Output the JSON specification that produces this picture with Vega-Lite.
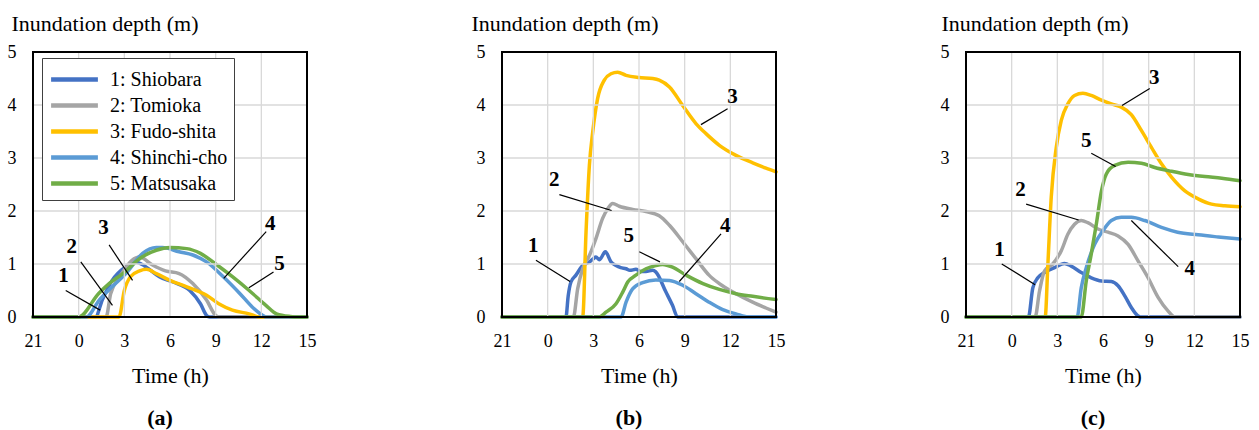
{
  "$schema": "https://vega.github.io/schema/vega-lite/v6.json",
  "padding": {"left": 7, "top": 12, "right": 5, "bottom": 5},
  "background": "white",
  "config": {
    "font": "Liberation Serif",
    "view": {"stroke": null},
    "axis": {"labelFont": "Liberation Serif", "titleFont": "Liberation Serif", "labelColor": "black", "titleColor": "black", "labelFontSize": 18, "titleFontSize": 22, "titleFontWeight": "normal", "grid": false, "ticks": false, "domain": false, "labelFlush": false},
    "title": {"font": "Liberation Serif", "fontSize": 22, "fontWeight": "bold", "color": "black"},
    "legend": {"labelFont": "Liberation Serif", "labelFontSize": 20, "labelColor": "black"}
  },
  "datasets": {
    "gx": [{"v":0},{"v":3},{"v":6},{"v":9},{"v":12}],
    "gy": [{"v":1},{"v":2},{"v":3},{"v":4}],
    "frame": [{"x0":-3,"x1":15,"y0":0,"y1":5}],
    "curves": [
      {"p":"a","s":"1: Shiobara","t":-3,"d":0},{"p":"a","s":"1: Shiobara","t":1.1,"d":0},{"p":"a","s":"1: Shiobara","t":1.55,"d":0.32},{"p":"a","s":"1: Shiobara","t":2.2,"d":0.69},{"p":"a","s":"1: Shiobara","t":3.1,"d":0.95},{"p":"a","s":"1: Shiobara","t":3.75,"d":1.04},{"p":"a","s":"1: Shiobara","t":4.4,"d":0.95},{"p":"a","s":"1: Shiobara","t":5.3,"d":0.76},{"p":"a","s":"1: Shiobara","t":6.2,"d":0.66},{"p":"a","s":"1: Shiobara","t":7.3,"d":0.5},{"p":"a","s":"1: Shiobara","t":8.0,"d":0.25},{"p":"a","s":"1: Shiobara","t":8.4,"d":0.03},{"p":"a","s":"1: Shiobara","t":8.6,"d":0},{"p":"a","s":"1: Shiobara","t":15,"d":0},
      {"p":"a","s":"2: Tomioka","t":-3,"d":0},{"p":"a","s":"2: Tomioka","t":1.8,"d":0},{"p":"a","s":"2: Tomioka","t":2.1,"d":0.44},{"p":"a","s":"2: Tomioka","t":2.7,"d":0.76},{"p":"a","s":"2: Tomioka","t":3.5,"d":1.07},{"p":"a","s":"2: Tomioka","t":4.0,"d":1.13},{"p":"a","s":"2: Tomioka","t":4.85,"d":0.98},{"p":"a","s":"2: Tomioka","t":5.7,"d":0.87},{"p":"a","s":"2: Tomioka","t":6.6,"d":0.82},{"p":"a","s":"2: Tomioka","t":7.5,"d":0.63},{"p":"a","s":"2: Tomioka","t":8.4,"d":0.32},{"p":"a","s":"2: Tomioka","t":9.0,"d":0.03},{"p":"a","s":"2: Tomioka","t":9.2,"d":0},{"p":"a","s":"2: Tomioka","t":15,"d":0},
      {"p":"a","s":"3: Fudo-shita","t":-3,"d":0},{"p":"a","s":"3: Fudo-shita","t":2.65,"d":0},{"p":"a","s":"3: Fudo-shita","t":3.0,"d":0.5},{"p":"a","s":"3: Fudo-shita","t":3.4,"d":0.76},{"p":"a","s":"3: Fudo-shita","t":4.0,"d":0.87},{"p":"a","s":"3: Fudo-shita","t":4.45,"d":0.9},{"p":"a","s":"3: Fudo-shita","t":5.1,"d":0.82},{"p":"a","s":"3: Fudo-shita","t":6.0,"d":0.69},{"p":"a","s":"3: Fudo-shita","t":7.1,"d":0.57},{"p":"a","s":"3: Fudo-shita","t":8.4,"d":0.41},{"p":"a","s":"3: Fudo-shita","t":9.2,"d":0.25},{"p":"a","s":"3: Fudo-shita","t":10.1,"d":0.13},{"p":"a","s":"3: Fudo-shita","t":11.2,"d":0.06},{"p":"a","s":"3: Fudo-shita","t":11.9,"d":0},{"p":"a","s":"3: Fudo-shita","t":15,"d":0},
      {"p":"a","s":"4: Shinchi-cho","t":-3,"d":0},{"p":"a","s":"4: Shinchi-cho","t":0.5,"d":0},{"p":"a","s":"4: Shinchi-cho","t":1.35,"d":0.32},{"p":"a","s":"4: Shinchi-cho","t":2.2,"d":0.57},{"p":"a","s":"4: Shinchi-cho","t":3.1,"d":0.82},{"p":"a","s":"4: Shinchi-cho","t":4.2,"d":1.2},{"p":"a","s":"4: Shinchi-cho","t":5.1,"d":1.31},{"p":"a","s":"4: Shinchi-cho","t":5.5,"d":1.31},{"p":"a","s":"4: Shinchi-cho","t":6.6,"d":1.23},{"p":"a","s":"4: Shinchi-cho","t":7.5,"d":1.17},{"p":"a","s":"4: Shinchi-cho","t":8.4,"d":1.04},{"p":"a","s":"4: Shinchi-cho","t":9.5,"d":0.76},{"p":"a","s":"4: Shinchi-cho","t":10.6,"d":0.44},{"p":"a","s":"4: Shinchi-cho","t":11.4,"d":0.19},{"p":"a","s":"4: Shinchi-cho","t":12.1,"d":0.03},{"p":"a","s":"4: Shinchi-cho","t":12.3,"d":0},{"p":"a","s":"4: Shinchi-cho","t":15,"d":0},
      {"p":"a","s":"5: Matsusaka","t":-3,"d":0},{"p":"a","s":"5: Matsusaka","t":0,"d":0},{"p":"a","s":"5: Matsusaka","t":1.3,"d":0.44},{"p":"a","s":"5: Matsusaka","t":2.0,"d":0.63},{"p":"a","s":"5: Matsusaka","t":2.9,"d":0.82},{"p":"a","s":"5: Matsusaka","t":4.0,"d":1.1},{"p":"a","s":"5: Matsusaka","t":5.1,"d":1.26},{"p":"a","s":"5: Matsusaka","t":6.0,"d":1.31},{"p":"a","s":"5: Matsusaka","t":7.1,"d":1.29},{"p":"a","s":"5: Matsusaka","t":8.0,"d":1.2},{"p":"a","s":"5: Matsusaka","t":9.0,"d":1.0},{"p":"a","s":"5: Matsusaka","t":10.1,"d":0.76},{"p":"a","s":"5: Matsusaka","t":11.2,"d":0.5},{"p":"a","s":"5: Matsusaka","t":12.3,"d":0.22},{"p":"a","s":"5: Matsusaka","t":13.0,"d":0.06},{"p":"a","s":"5: Matsusaka","t":13.9,"d":0.01},{"p":"a","s":"5: Matsusaka","t":14.5,"d":0},{"p":"a","s":"5: Matsusaka","t":15,"d":0},

      {"p":"b","s":"1: Shiobara","t":-3,"d":0},{"p":"b","s":"1: Shiobara","t":1.2,"d":0},{"p":"b","s":"1: Shiobara","t":1.35,"d":0.4},{"p":"b","s":"1: Shiobara","t":1.53,"d":0.66},{"p":"b","s":"1: Shiobara","t":1.86,"d":0.79},{"p":"b","s":"1: Shiobara","t":2.3,"d":0.97},{"p":"b","s":"1: Shiobara","t":2.74,"d":1.04},{"p":"b","s":"1: Shiobara","t":3.0,"d":1.1},{"p":"b","s":"1: Shiobara","t":3.17,"d":1.13},{"p":"b","s":"1: Shiobara","t":3.4,"d":1.08},{"p":"b","s":"1: Shiobara","t":3.5,"d":1.11},{"p":"b","s":"1: Shiobara","t":3.79,"d":1.23},{"p":"b","s":"1: Shiobara","t":4.16,"d":1.04},{"p":"b","s":"1: Shiobara","t":4.49,"d":0.97},{"p":"b","s":"1: Shiobara","t":4.8,"d":0.93},{"p":"b","s":"1: Shiobara","t":5.15,"d":0.91},{"p":"b","s":"1: Shiobara","t":5.4,"d":0.88},{"p":"b","s":"1: Shiobara","t":5.8,"d":0.9},{"p":"b","s":"1: Shiobara","t":6.1,"d":0.86},{"p":"b","s":"1: Shiobara","t":6.46,"d":0.86},{"p":"b","s":"1: Shiobara","t":6.9,"d":0.88},{"p":"b","s":"1: Shiobara","t":7.1,"d":0.85},{"p":"b","s":"1: Shiobara","t":7.77,"d":0.47},{"p":"b","s":"1: Shiobara","t":8.2,"d":0.22},{"p":"b","s":"1: Shiobara","t":8.54,"d":0},{"p":"b","s":"1: Shiobara","t":15,"d":0},
      {"p":"b","s":"2: Tomioka","t":-3,"d":0},{"p":"b","s":"2: Tomioka","t":1.69,"d":0},{"p":"b","s":"2: Tomioka","t":1.97,"d":0.53},{"p":"b","s":"2: Tomioka","t":2.3,"d":0.91},{"p":"b","s":"2: Tomioka","t":2.74,"d":1.16},{"p":"b","s":"2: Tomioka","t":3.17,"d":1.48},{"p":"b","s":"2: Tomioka","t":3.61,"d":1.86},{"p":"b","s":"2: Tomioka","t":3.94,"d":2.04},{"p":"b","s":"2: Tomioka","t":4.27,"d":2.14},{"p":"b","s":"2: Tomioka","t":4.7,"d":2.09},{"p":"b","s":"2: Tomioka","t":5.58,"d":2.03},{"p":"b","s":"2: Tomioka","t":6.46,"d":1.99},{"p":"b","s":"2: Tomioka","t":7.33,"d":1.91},{"p":"b","s":"2: Tomioka","t":8.0,"d":1.73},{"p":"b","s":"2: Tomioka","t":8.87,"d":1.42},{"p":"b","s":"2: Tomioka","t":9.74,"d":1.1},{"p":"b","s":"2: Tomioka","t":10.6,"d":0.79},{"p":"b","s":"2: Tomioka","t":11.28,"d":0.63},{"p":"b","s":"2: Tomioka","t":12.37,"d":0.44},{"p":"b","s":"2: Tomioka","t":13.47,"d":0.28},{"p":"b","s":"2: Tomioka","t":14.34,"d":0.17},{"p":"b","s":"2: Tomioka","t":15,"d":0.09},
      {"p":"b","s":"3: Fudo-shita","t":-3,"d":0},{"p":"b","s":"3: Fudo-shita","t":2.3,"d":0},{"p":"b","s":"3: Fudo-shita","t":2.52,"d":1.6},{"p":"b","s":"3: Fudo-shita","t":2.74,"d":2.86},{"p":"b","s":"3: Fudo-shita","t":2.96,"d":3.49},{"p":"b","s":"3: Fudo-shita","t":3.28,"d":4.12},{"p":"b","s":"3: Fudo-shita","t":3.72,"d":4.47},{"p":"b","s":"3: Fudo-shita","t":4.16,"d":4.59},{"p":"b","s":"3: Fudo-shita","t":4.6,"d":4.62},{"p":"b","s":"3: Fudo-shita","t":5.15,"d":4.56},{"p":"b","s":"3: Fudo-shita","t":6.0,"d":4.52},{"p":"b","s":"3: Fudo-shita","t":6.9,"d":4.5},{"p":"b","s":"3: Fudo-shita","t":7.33,"d":4.47},{"p":"b","s":"3: Fudo-shita","t":8.0,"d":4.34},{"p":"b","s":"3: Fudo-shita","t":8.87,"d":3.99},{"p":"b","s":"3: Fudo-shita","t":9.74,"d":3.65},{"p":"b","s":"3: Fudo-shita","t":10.4,"d":3.46},{"p":"b","s":"3: Fudo-shita","t":11.28,"d":3.24},{"p":"b","s":"3: Fudo-shita","t":12.37,"d":3.05},{"p":"b","s":"3: Fudo-shita","t":13.47,"d":2.91},{"p":"b","s":"3: Fudo-shita","t":14.34,"d":2.81},{"p":"b","s":"3: Fudo-shita","t":15,"d":2.74},
      {"p":"b","s":"4: Shinchi-cho","t":-3,"d":0},{"p":"b","s":"4: Shinchi-cho","t":4.82,"d":0},{"p":"b","s":"4: Shinchi-cho","t":5.15,"d":0.28},{"p":"b","s":"4: Shinchi-cho","t":5.58,"d":0.53},{"p":"b","s":"4: Shinchi-cho","t":6.24,"d":0.65},{"p":"b","s":"4: Shinchi-cho","t":7.1,"d":0.7},{"p":"b","s":"4: Shinchi-cho","t":8.0,"d":0.69},{"p":"b","s":"4: Shinchi-cho","t":8.87,"d":0.6},{"p":"b","s":"4: Shinchi-cho","t":9.74,"d":0.44},{"p":"b","s":"4: Shinchi-cho","t":10.6,"d":0.28},{"p":"b","s":"4: Shinchi-cho","t":11.5,"d":0.14},{"p":"b","s":"4: Shinchi-cho","t":12.37,"d":0.06},{"p":"b","s":"4: Shinchi-cho","t":13.25,"d":0},{"p":"b","s":"4: Shinchi-cho","t":15,"d":0},
      {"p":"b","s":"5: Matsusaka","t":-3,"d":0},{"p":"b","s":"5: Matsusaka","t":3.39,"d":0},{"p":"b","s":"5: Matsusaka","t":3.83,"d":0.09},{"p":"b","s":"5: Matsusaka","t":4.49,"d":0.25},{"p":"b","s":"5: Matsusaka","t":4.93,"d":0.47},{"p":"b","s":"5: Matsusaka","t":5.26,"d":0.66},{"p":"b","s":"5: Matsusaka","t":5.8,"d":0.79},{"p":"b","s":"5: Matsusaka","t":6.46,"d":0.91},{"p":"b","s":"5: Matsusaka","t":7.1,"d":0.97},{"p":"b","s":"5: Matsusaka","t":7.55,"d":0.99},{"p":"b","s":"5: Matsusaka","t":8.2,"d":0.94},{"p":"b","s":"5: Matsusaka","t":9.09,"d":0.79},{"p":"b","s":"5: Matsusaka","t":10.2,"d":0.63},{"p":"b","s":"5: Matsusaka","t":11.28,"d":0.52},{"p":"b","s":"5: Matsusaka","t":12.37,"d":0.44},{"p":"b","s":"5: Matsusaka","t":13.47,"d":0.39},{"p":"b","s":"5: Matsusaka","t":15,"d":0.33},

      {"p":"c","s":"1: Shiobara","t":-3,"d":0},{"p":"c","s":"1: Shiobara","t":1.1,"d":0},{"p":"c","s":"1: Shiobara","t":1.39,"d":0.55},{"p":"c","s":"1: Shiobara","t":1.72,"d":0.74},{"p":"c","s":"1: Shiobara","t":2.16,"d":0.84},{"p":"c","s":"1: Shiobara","t":2.82,"d":0.93},{"p":"c","s":"1: Shiobara","t":3.47,"d":1.01},{"p":"c","s":"1: Shiobara","t":3.91,"d":0.96},{"p":"c","s":"1: Shiobara","t":4.57,"d":0.84},{"p":"c","s":"1: Shiobara","t":5.23,"d":0.74},{"p":"c","s":"1: Shiobara","t":5.9,"d":0.68},{"p":"c","s":"1: Shiobara","t":6.55,"d":0.67},{"p":"c","s":"1: Shiobara","t":6.99,"d":0.59},{"p":"c","s":"1: Shiobara","t":7.43,"d":0.4},{"p":"c","s":"1: Shiobara","t":7.86,"d":0.18},{"p":"c","s":"1: Shiobara","t":8.3,"d":0.02},{"p":"c","s":"1: Shiobara","t":8.45,"d":0},{"p":"c","s":"1: Shiobara","t":15,"d":0},
      {"p":"c","s":"2: Tomioka","t":-3,"d":0},{"p":"c","s":"2: Tomioka","t":1.54,"d":0},{"p":"c","s":"2: Tomioka","t":1.83,"d":0.49},{"p":"c","s":"2: Tomioka","t":2.16,"d":0.87},{"p":"c","s":"2: Tomioka","t":2.7,"d":1.0},{"p":"c","s":"2: Tomioka","t":3.26,"d":1.25},{"p":"c","s":"2: Tomioka","t":3.69,"d":1.56},{"p":"c","s":"2: Tomioka","t":4.13,"d":1.75},{"p":"c","s":"2: Tomioka","t":4.57,"d":1.82},{"p":"c","s":"2: Tomioka","t":5.0,"d":1.78},{"p":"c","s":"2: Tomioka","t":5.67,"d":1.66},{"p":"c","s":"2: Tomioka","t":6.33,"d":1.6},{"p":"c","s":"2: Tomioka","t":6.99,"d":1.53},{"p":"c","s":"2: Tomioka","t":7.65,"d":1.37},{"p":"c","s":"2: Tomioka","t":8.3,"d":1.06},{"p":"c","s":"2: Tomioka","t":8.96,"d":0.74},{"p":"c","s":"2: Tomioka","t":9.62,"d":0.37},{"p":"c","s":"2: Tomioka","t":10.28,"d":0.11},{"p":"c","s":"2: Tomioka","t":10.72,"d":0},{"p":"c","s":"2: Tomioka","t":15,"d":0},
      {"p":"c","s":"3: Fudo-shita","t":-3,"d":0},{"p":"c","s":"3: Fudo-shita","t":2.2,"d":0},{"p":"c","s":"3: Fudo-shita","t":2.38,"d":1.0},{"p":"c","s":"3: Fudo-shita","t":2.6,"d":2.26},{"p":"c","s":"3: Fudo-shita","t":2.93,"d":3.2},{"p":"c","s":"3: Fudo-shita","t":3.26,"d":3.71},{"p":"c","s":"3: Fudo-shita","t":3.69,"d":4.02},{"p":"c","s":"3: Fudo-shita","t":4.13,"d":4.18},{"p":"c","s":"3: Fudo-shita","t":4.68,"d":4.22},{"p":"c","s":"3: Fudo-shita","t":5.23,"d":4.18},{"p":"c","s":"3: Fudo-shita","t":5.9,"d":4.09},{"p":"c","s":"3: Fudo-shita","t":6.55,"d":4.02},{"p":"c","s":"3: Fudo-shita","t":7.2,"d":3.96},{"p":"c","s":"3: Fudo-shita","t":7.86,"d":3.82},{"p":"c","s":"3: Fudo-shita","t":8.52,"d":3.52},{"p":"c","s":"3: Fudo-shita","t":9.18,"d":3.2},{"p":"c","s":"3: Fudo-shita","t":9.84,"d":2.89},{"p":"c","s":"3: Fudo-shita","t":10.5,"d":2.64},{"p":"c","s":"3: Fudo-shita","t":11.38,"d":2.38},{"p":"c","s":"3: Fudo-shita","t":12.25,"d":2.23},{"p":"c","s":"3: Fudo-shita","t":13.13,"d":2.13},{"p":"c","s":"3: Fudo-shita","t":14.0,"d":2.1},{"p":"c","s":"3: Fudo-shita","t":15,"d":2.08},
      {"p":"c","s":"4: Shinchi-cho","t":-3,"d":0},{"p":"c","s":"4: Shinchi-cho","t":4.3,"d":0},{"p":"c","s":"4: Shinchi-cho","t":4.57,"d":0.55},{"p":"c","s":"4: Shinchi-cho","t":4.9,"d":0.93},{"p":"c","s":"4: Shinchi-cho","t":5.45,"d":1.37},{"p":"c","s":"4: Shinchi-cho","t":6.0,"d":1.63},{"p":"c","s":"4: Shinchi-cho","t":6.55,"d":1.82},{"p":"c","s":"4: Shinchi-cho","t":7.2,"d":1.88},{"p":"c","s":"4: Shinchi-cho","t":7.86,"d":1.88},{"p":"c","s":"4: Shinchi-cho","t":8.74,"d":1.82},{"p":"c","s":"4: Shinchi-cho","t":9.84,"d":1.69},{"p":"c","s":"4: Shinchi-cho","t":10.9,"d":1.6},{"p":"c","s":"4: Shinchi-cho","t":12.25,"d":1.55},{"p":"c","s":"4: Shinchi-cho","t":13.57,"d":1.51},{"p":"c","s":"4: Shinchi-cho","t":15,"d":1.47},
      {"p":"c","s":"5: Matsusaka","t":-3,"d":0},{"p":"c","s":"5: Matsusaka","t":4.57,"d":0},{"p":"c","s":"5: Matsusaka","t":4.9,"d":0.68},{"p":"c","s":"5: Matsusaka","t":5.23,"d":1.19},{"p":"c","s":"5: Matsusaka","t":5.56,"d":1.75},{"p":"c","s":"5: Matsusaka","t":5.9,"d":2.38},{"p":"c","s":"5: Matsusaka","t":6.22,"d":2.7},{"p":"c","s":"5: Matsusaka","t":6.77,"d":2.86},{"p":"c","s":"5: Matsusaka","t":7.65,"d":2.92},{"p":"c","s":"5: Matsusaka","t":8.52,"d":2.9},{"p":"c","s":"5: Matsusaka","t":9.4,"d":2.82},{"p":"c","s":"5: Matsusaka","t":10.5,"d":2.75},{"p":"c","s":"5: Matsusaka","t":11.6,"d":2.69},{"p":"c","s":"5: Matsusaka","t":12.7,"d":2.65},{"p":"c","s":"5: Matsusaka","t":13.8,"d":2.62},{"p":"c","s":"5: Matsusaka","t":15,"d":2.57}
    ],
    "notes": [
      {"p":"a","label":"1","lt":-1.0,"ld":0.77,"t":-0.85,"d":0.5,"t2":1.41,"d2":0.13},
      {"p":"a","label":"2","lt":-0.45,"ld":1.32,"t":0.14,"d":1.04,"t2":2.22,"d2":0.22},
      {"p":"a","label":"3","lt":1.63,"ld":1.67,"t":2.0,"d":1.36,"t2":3.54,"d2":0.69},
      {"p":"a","label":"4","lt":12.58,"ld":1.75,"t":12.32,"d":1.61,"t2":9.53,"d2":0.73},
      {"p":"a","label":"5","lt":13.2,"ld":1.0,"t":12.8,"d":0.85,"t2":11.18,"d2":0.55},
      {"p":"b","label":"1","lt":-0.94,"ld":1.34,"t":-0.77,"d":1.07,"t2":1.47,"d2":0.67},
      {"p":"b","label":"2","lt":0.44,"ld":2.58,"t":0.77,"d":2.31,"t2":4.2,"d2":2.01},
      {"p":"b","label":"3","lt":12.15,"ld":4.15,"t":11.82,"d":3.93,"t2":10.07,"d2":3.63},
      {"p":"b","label":"4","lt":11.67,"ld":1.71,"t":11.39,"d":1.57,"t2":8.65,"d2":0.67},
      {"p":"b","label":"5","lt":5.32,"ld":1.53,"t":6.02,"d":1.23,"t2":7.38,"d2":1.04},
      {"p":"c","label":"1","lt":-0.8,"ld":1.27,"t":-0.65,"d":1.0,"t2":1.54,"d2":0.61},
      {"p":"c","label":"2","lt":0.58,"ld":2.4,"t":0.95,"d":2.13,"t2":4.4,"d2":1.83},
      {"p":"c","label":"3","lt":9.36,"ld":4.51,"t":9.07,"d":4.31,"t2":7.25,"d2":3.99},
      {"p":"c","label":"4","lt":11.7,"ld":0.9,"t":10.94,"d":0.95,"t2":7.86,"d2":1.82},
      {"p":"c","label":"5","lt":4.9,"ld":3.32,"t":5.23,"d":3.09,"t2":6.83,"d2":2.84}
    ]
  },
  "resolve": {"legend": {"color": "independent"}},
  "spacing": 155,
  "hconcat": [
    {
      "width": 274, "height": 265,
      "title": {"text": "(a)", "orient": "bottom", "offset": 22, "dx": -10},
      "layer": [
        {
          "data": {"name": "curves"},
          "transform": [{"filter": "datum.p == 'a'"}],
          "mark": {"type": "line", "strokeWidth": 3.5, "interpolate": "monotone", "strokeCap": "round", "strokeJoin": "round"},
          "encoding": {
            "x": {"field": "t", "type": "quantitative", "scale": {"domain": [-3, 15], "nice": false}, "axis": {"values": [-3,0,3,6,9,12,15], "labelExpr": "datum.value == -3 ? '21' : datum.label", "title": "Time (h)", "labelPadding": 15, "titlePadding": 15}},
            "y": {"field": "d", "type": "quantitative", "scale": {"domain": [0, 5], "nice": false}, "axis": {"values": [0,1,2,3,4,5], "labelPadding": 17, "title": "Inundation depth (m)", "titleAngle": 0, "titleAlign": "left", "titleBaseline": "middle", "titleX": -22, "titleY": -29}},
            "color": {"field": "s", "type": "nominal", "scale": {"domain": ["1: Shiobara","2: Tomioka","3: Fudo-shita","4: Shinchi-cho","5: Matsusaka"], "range": ["#4472C4","#A5A5A5","#FFC000","#5B9BD5","#70AD47"]},
              "legend": {"title": null, "orient": "none", "legendX": 9, "legendY": 6, "symbolType": "M-1.8,0H1.8", "symbolStrokeWidth": 4.5, "symbolSize": 676, "symbolOffset": 11, "labelFont": "Liberation Serif", "labelFontSize": 20, "labelOffset": 20, "rowPadding": 0, "padding": 6, "strokeColor": "#404040", "fillColor": "white"}}
          }
        },
        {"data": {"name": "gx"}, "mark": {"type": "rule", "color": "#d9d9d9", "strokeWidth": 1.3}, "encoding": {"x": {"field": "v", "type": "quantitative"}}},
        {"data": {"name": "gy"}, "mark": {"type": "rule", "color": "#d9d9d9", "strokeWidth": 1.3}, "encoding": {"y": {"field": "v", "type": "quantitative"}}},
        {"data": {"name": "frame"}, "mark": {"type": "rect", "fill": null, "fillOpacity": 0, "stroke": "black", "strokeWidth": 2}, "encoding": {"x": {"field": "x0", "type": "quantitative"}, "x2": {"field": "x1"}, "y": {"field": "y0", "type": "quantitative"}, "y2": {"field": "y1"}}},
        {
          "data": {"name": "notes"},
          "transform": [{"filter": "datum.p == 'a'"}],
          "mark": {"type": "rule", "color": "black", "strokeWidth": 1.2},
          "encoding": {"x": {"field": "t", "type": "quantitative"}, "y": {"field": "d", "type": "quantitative"}, "x2": {"field": "t2"}, "y2": {"field": "d2"}}
        },
        {
          "data": {"name": "notes"},
          "transform": [{"filter": "datum.p == 'a'"}],
          "mark": {"type": "text", "font": "Liberation Serif", "fontWeight": "bold", "fontSize": 21, "color": "black", "baseline": "middle", "align": "center"},
          "encoding": {"x": {"field": "lt", "type": "quantitative"}, "y": {"field": "ld", "type": "quantitative"}, "text": {"field": "label"}}
        }
      ]
    },
    {
      "width": 274, "height": 265,
      "title": {"text": "(b)", "orient": "bottom", "offset": 22, "dx": -10},
      "layer": [
        {
          "data": {"name": "curves"},
          "transform": [{"filter": "datum.p == 'b'"}],
          "mark": {"type": "line", "strokeWidth": 3.5, "interpolate": "monotone", "strokeCap": "round", "strokeJoin": "round"},
          "encoding": {
            "x": {"field": "t", "type": "quantitative", "scale": {"domain": [-3, 15], "nice": false}, "axis": {"values": [-3,0,3,6,9,12,15], "labelExpr": "datum.value == -3 ? '21' : datum.label", "title": "Time (h)", "labelPadding": 15, "titlePadding": 15}},
            "y": {"field": "d", "type": "quantitative", "scale": {"domain": [0, 5], "nice": false}, "axis": {"values": [0,1,2,3,4,5], "labelPadding": 17, "title": "Inundation depth (m)", "titleAngle": 0, "titleAlign": "left", "titleBaseline": "middle", "titleX": -31, "titleY": -29}},
            "color": {"field": "s", "type": "nominal", "scale": {"domain": ["1: Shiobara","2: Tomioka","3: Fudo-shita","4: Shinchi-cho","5: Matsusaka"], "range": ["#4472C4","#A5A5A5","#FFC000","#5B9BD5","#70AD47"]}, "legend": null}
          }
        },
        {"data": {"name": "gx"}, "mark": {"type": "rule", "color": "#d9d9d9", "strokeWidth": 1.3}, "encoding": {"x": {"field": "v", "type": "quantitative"}}},
        {"data": {"name": "gy"}, "mark": {"type": "rule", "color": "#d9d9d9", "strokeWidth": 1.3}, "encoding": {"y": {"field": "v", "type": "quantitative"}}},
        {"data": {"name": "frame"}, "mark": {"type": "rect", "fill": null, "fillOpacity": 0, "stroke": "black", "strokeWidth": 2}, "encoding": {"x": {"field": "x0", "type": "quantitative"}, "x2": {"field": "x1"}, "y": {"field": "y0", "type": "quantitative"}, "y2": {"field": "y1"}}},
        {
          "data": {"name": "notes"},
          "transform": [{"filter": "datum.p == 'b'"}],
          "mark": {"type": "rule", "color": "black", "strokeWidth": 1.2},
          "encoding": {"x": {"field": "t", "type": "quantitative"}, "y": {"field": "d", "type": "quantitative"}, "x2": {"field": "t2"}, "y2": {"field": "d2"}}
        },
        {
          "data": {"name": "notes"},
          "transform": [{"filter": "datum.p == 'b'"}],
          "mark": {"type": "text", "font": "Liberation Serif", "fontWeight": "bold", "fontSize": 21, "color": "black", "baseline": "middle", "align": "center"},
          "encoding": {"x": {"field": "lt", "type": "quantitative"}, "y": {"field": "ld", "type": "quantitative"}, "text": {"field": "label"}}
        }
      ]
    },
    {
      "width": 274, "height": 265,
      "title": {"text": "(c)", "orient": "bottom", "offset": 22, "dx": -10},
      "layer": [
        {
          "data": {"name": "curves"},
          "transform": [{"filter": "datum.p == 'c'"}],
          "mark": {"type": "line", "strokeWidth": 3.5, "interpolate": "monotone", "strokeCap": "round", "strokeJoin": "round"},
          "encoding": {
            "x": {"field": "t", "type": "quantitative", "scale": {"domain": [-3, 15], "nice": false}, "axis": {"values": [-3,0,3,6,9,12,15], "labelExpr": "datum.value == -3 ? '21' : datum.label", "title": "Time (h)", "labelPadding": 15, "titlePadding": 15}},
            "y": {"field": "d", "type": "quantitative", "scale": {"domain": [0, 5], "nice": false}, "axis": {"values": [0,1,2,3,4,5], "labelPadding": 17, "title": "Inundation depth (m)", "titleAngle": 0, "titleAlign": "left", "titleBaseline": "middle", "titleX": -25, "titleY": -29}},
            "color": {"field": "s", "type": "nominal", "scale": {"domain": ["1: Shiobara","2: Tomioka","3: Fudo-shita","4: Shinchi-cho","5: Matsusaka"], "range": ["#4472C4","#A5A5A5","#FFC000","#5B9BD5","#70AD47"]}, "legend": null}
          }
        },
        {"data": {"name": "gx"}, "mark": {"type": "rule", "color": "#d9d9d9", "strokeWidth": 1.3}, "encoding": {"x": {"field": "v", "type": "quantitative"}}},
        {"data": {"name": "gy"}, "mark": {"type": "rule", "color": "#d9d9d9", "strokeWidth": 1.3}, "encoding": {"y": {"field": "v", "type": "quantitative"}}},
        {"data": {"name": "frame"}, "mark": {"type": "rect", "fill": null, "fillOpacity": 0, "stroke": "black", "strokeWidth": 2}, "encoding": {"x": {"field": "x0", "type": "quantitative"}, "x2": {"field": "x1"}, "y": {"field": "y0", "type": "quantitative"}, "y2": {"field": "y1"}}},
        {
          "data": {"name": "notes"},
          "transform": [{"filter": "datum.p == 'c'"}],
          "mark": {"type": "rule", "color": "black", "strokeWidth": 1.2},
          "encoding": {"x": {"field": "t", "type": "quantitative"}, "y": {"field": "d", "type": "quantitative"}, "x2": {"field": "t2"}, "y2": {"field": "d2"}}
        },
        {
          "data": {"name": "notes"},
          "transform": [{"filter": "datum.p == 'c'"}],
          "mark": {"type": "text", "font": "Liberation Serif", "fontWeight": "bold", "fontSize": 21, "color": "black", "baseline": "middle", "align": "center"},
          "encoding": {"x": {"field": "lt", "type": "quantitative"}, "y": {"field": "ld", "type": "quantitative"}, "text": {"field": "label"}}
        }
      ]
    }
  ]
}
